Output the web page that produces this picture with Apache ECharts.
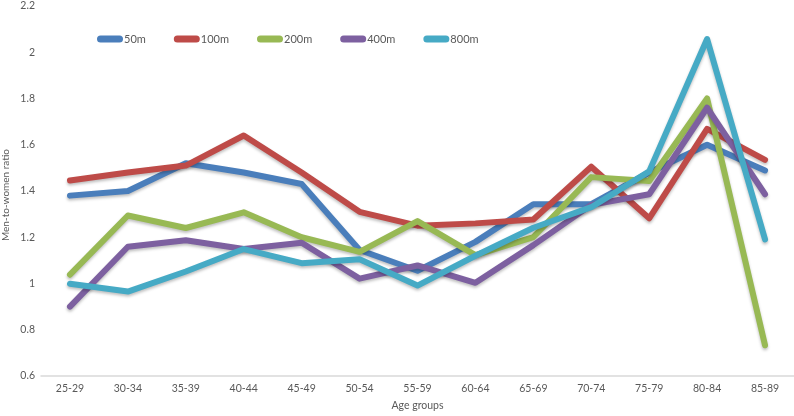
<!DOCTYPE html>
<html><head><meta charset="utf-8">
<script src="https://cdn.jsdelivr.net/npm/echarts@6/dist/echarts.min.js"></script>
<style>html,body{margin:0;padding:0;background:#fff}#c{width:794px;height:416px}</style>
</head><body><div id="c"></div>
<script>
const categories = ['25-29','30-34','35-39','40-44','45-49','50-54','55-59','60-64','65-69','70-74','75-79','80-84','85-89'];
const s50m  = [1.38,1.40,1.52,1.48,1.43,1.145,1.055,1.18,1.343,1.343,1.48,1.60,1.489];
const s100m = [1.445,1.48,1.51,1.64,1.48,1.31,1.25,1.26,1.277,1.505,1.282,1.669,1.535];
const s200m = [1.038,1.294,1.24,1.308,1.20,1.137,1.27,1.123,1.201,1.46,1.443,1.80,0.733];
const s400m = [0.90,1.159,1.187,1.149,1.176,1.021,1.078,1.003,1.166,1.34,1.386,1.76,1.386];
const s800m = [0.999,0.965,1.052,1.149,1.088,1.105,0.991,1.12,1.241,1.33,1.485,2.057,1.191];
const seriesNames = ['50m','100m','200m','400m','800m'];
const colors = ['#4a7ebb','#be4b48','#98b954','#7d60a0','#46aac5'];
const yTicks = {min:0.6, max:2.2, interval:0.2};

const font = 'Lato, "Open Sans", sans-serif';
const chart = echarts.init(document.getElementById('c'), null, {renderer:'canvas'});
const data = [s50m,s100m,s200m,s400m,s800m];
chart.setOption({
  animation:false,
  color: colors,
  grid:{left:41, right:0, top:6, bottom:33, containLabel:false},
  legend:{
    top:28.5, left:92, itemWidth:26, itemHeight:7, itemGap:28,
    icon:'path://M3.5,0 H22.5 A3.5,3.5 0 0 1 22.5,7 H3.5 A3.5,3.5 0 0 1 3.5,0 Z',
    textStyle:{color:'#595959', fontSize:11, fontFamily:font, padding:[0,0,0,-4]},
    data: seriesNames
  },
  xAxis:{
    type:'category', data:categories, boundaryGap:true,
    axisTick:{show:false},
    axisLine:{lineStyle:{color:'#d9d9d9', width:1.5}},
    axisLabel:{color:'#595959', fontSize:10.5, fontFamily:font, margin:7},
    name:'Age groups', nameLocation:'middle', nameGap:24,
    nameTextStyle:{color:'#595959', fontSize:10.5, fontFamily:font}
  },
  yAxis:{
    type:'value', min:yTicks.min, max:yTicks.max, interval:yTicks.interval,
    splitLine:{show:false}, axisLine:{show:false}, axisTick:{show:false},
    axisLabel:{color:'#595959', fontSize:10.5, fontFamily:font, margin:6,
      formatter:v=>String(Math.round(v*10)/10)}
  },
  graphic:[{type:'text', left:1, top:149, rotation:Math.PI/2,
    style:{text:'Men-to-women ratio', fill:'#595959', font:'10px '+font}}],
  series: seriesNames.map((n,i)=>({
    name:n, type:'line', data:data[i], symbol:'none', showSymbol:false,
    lineStyle:{width:6, color:colors[i], cap:'round', join:'round',
      shadowColor:'rgba(0,0,0,0.25)', shadowBlur:3, shadowOffsetY:2},
    itemStyle:{color:colors[i]}
  }))
});
</script></body></html>
